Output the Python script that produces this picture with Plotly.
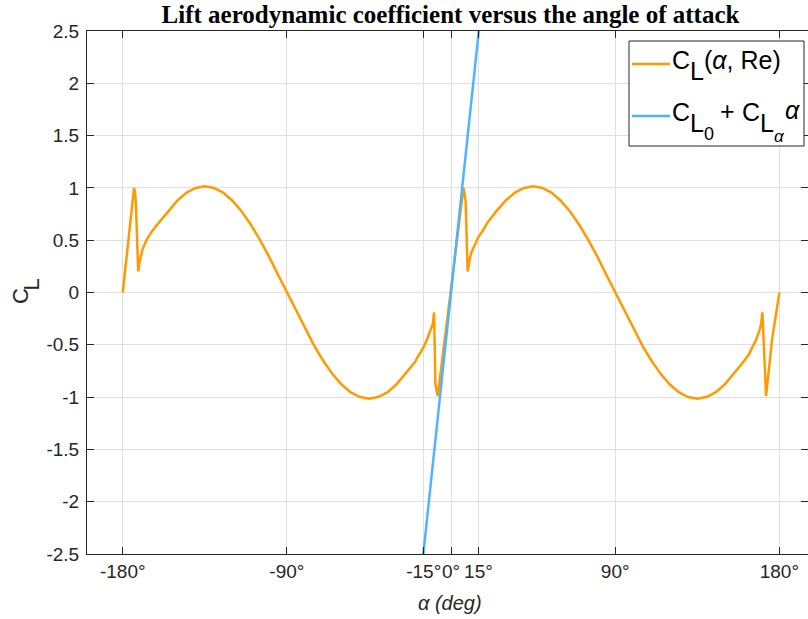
import plotly.graph_objects as go

# Orange: C_L(alpha, Re)
alpha_cl = [-180, -177, -175, -173.8, -173.2, -172.8, -171.5, -171, -170, -169, -167, -165, -162, -160,
            -155, -150, -145, -140, -135, -130, -125, -120, -115, -110, -105, -100, -95, -90,
            -85, -80, -75, -70, -65, -60, -55, -50, -45, -40, -35, -30, -25, -20, -17, -15, -13,
            -11.5, -10, -9.3, -9.0, -8.6, -7.3, 6.8, 7.4, 8.0, 9.1, 9.6, 10.5, 11.3, 13, 15, 17.7,
            20, 25, 30, 35, 40, 45, 50, 55, 60, 65, 70, 75, 80, 85, 90, 95, 100, 105, 110, 115, 120,
            125, 130, 135, 140, 145, 150, 155, 160, 163, 165, 167, 169, 170, 170.7, 171.2, 172.0,
            172.7, 176, 180]
cl_vals = [0.0, 0.48, 0.8, 1.0, 0.95, 0.85, 0.2, 0.27, 0.35, 0.42, 0.5, 0.56, 0.63, 0.67,
           0.78, 0.88, 0.955, 1.0, 1.015, 1.0, 0.955, 0.88, 0.78, 0.655, 0.51, 0.35, 0.175, 0.0,
           -0.175, -0.35, -0.51, -0.655, -0.78, -0.88, -0.955, -1.0, -1.015, -1.0, -0.955, -0.88,
           -0.78, -0.67, -0.58, -0.52, -0.44, -0.375, -0.3, -0.19, -0.5, -0.87, -0.99, 1.0, 0.95,
           0.87, 0.2, 0.27, 0.34, 0.39, 0.46, 0.53, 0.6, 0.67, 0.78, 0.88, 0.955, 1.0, 1.015, 1.0,
           0.955, 0.88, 0.78, 0.655, 0.51, 0.35, 0.175, 0.0, -0.175, -0.35, -0.51, -0.655, -0.78,
           -0.88, -0.955, -1.0, -1.015, -1.0, -0.955, -0.88, -0.78, -0.67, -0.6, -0.53, -0.46,
           -0.37, -0.3, -0.19, -0.42, -0.85, -0.99, -0.45, 0.0]

# Blue: linear model C_L0 + C_Lalpha * alpha
alpha_lin = [-16, 16]
cl_lin = [-2.63, 2.63]

x_ticks = [-180, -90, -15, 0, 15, 90, 180]
x_tick_labels = ["-180°", "-90°", "-15°", "0°", "15°", "90°", "180°"]
y_ticks = [-2.5, -2, -1.5, -1, -0.5, 0, 0.5, 1, 1.5, 2, 2.5]
y_tick_labels = ["-2.5", "-2", "-1.5", "-1", "-0.5", "0", "0.5", "1", "1.5", "2", "2.5"]

ORANGE = "#FF9A00"
BLUE = "#4DB5FF"
axis_col = "#262626"
grid_col = "#E0E0E0"
SANS = "Liberation Sans, Arial, sans-serif"

# plot area in pixels
L, R, T, B = 87, 808, 31, 554


def px(x):
    return (x - L) / (R - L)


def py(y):
    return (B - y) / (B - T)


fig = go.Figure()
fig.add_trace(go.Scatter(x=alpha_cl, y=cl_vals, mode="lines",
                         line=dict(color=ORANGE, width=2.5), showlegend=False))
fig.add_trace(go.Scatter(x=alpha_lin, y=cl_lin, mode="lines",
                         line=dict(color=BLUE, width=2.5), showlegend=False))

shapes = [
    dict(type="rect", xref="paper", yref="paper", x0=px(629), x1=px(804), y0=py(146), y1=py(41),
         line=dict(color=axis_col, width=1), fillcolor="white", layer="above"),
    dict(type="line", xref="paper", yref="paper", x0=px(632), x1=px(670), y0=py(64), y1=py(64),
         line=dict(color=ORANGE, width=2.5), layer="above"),
    dict(type="line", xref="paper", yref="paper", x0=px(632), x1=px(670), y0=py(116), y1=py(116),
         line=dict(color=BLUE, width=2.5), layer="above"),
]


def txt(s, x, y, size, xanchor="left", angle=0, color="black", family=SANS):
    return dict(text=s, xref="paper", yref="paper", x=px(x), y=py(y), xanchor=xanchor,
                yanchor="middle", showarrow=False, textangle=angle, borderpad=0,
                font=dict(size=size, color=color, family=family))


annotations = [
    # legend entry 1: C_L(alpha, Re)
    txt("C", 671, 60, 25),
    txt("L", 689, 71.5, 25),
    txt("(<i>α</i>, Re)", 703, 60, 25),
    # legend entry 2: C_L0 + C_Lalpha alpha
    txt("C", 671, 112, 25),
    txt("L", 689, 123, 25),
    txt("0", 703, 133.5, 18),
    txt("+", 727, 111, 25, xanchor="center"),
    txt("C", 741, 112, 25),
    txt("L", 759, 123, 25),
    txt("<i>α</i>", 773, 136, 17),
    txt("<i>α</i>", 784, 110, 25),
    # axis titles
    txt("<i>α (deg)</i>", 450, 603, 20, xanchor="center", color=axis_col),
    txt("C", 21, 296, 22, xanchor="center", angle=-90, color=axis_col),
    txt("L", 30.5, 284, 22, xanchor="center", angle=-90, color=axis_col),
]

fig.update_layout(
    width=808, height=619,
    margin=dict(l=L, r=808 - R, t=T, b=619 - B),
    plot_bgcolor="white", paper_bgcolor="white",
    font=dict(family=SANS, color=axis_col, size=19),
    title=dict(text="<b>Lift aerodynamic coefficient versus the angle of attack</b>",
               font=dict(family="Liberation Serif, Times New Roman, serif", size=25, color="black"),
               x=px(450.5), xanchor="center", xref="paper", y=1 - 14 / 619, yanchor="middle",
               yref="container"),
    showlegend=False,
    shapes=shapes,
    annotations=annotations,
)
fig.update_xaxes(range=[-199.6, 195.7], tickvals=x_ticks, ticktext=x_tick_labels,
                 tickangle=0, tickfont=dict(size=19),
                 showgrid=True, gridcolor=grid_col, gridwidth=1, zeroline=False,
                 showline=True, linecolor=axis_col, linewidth=1, mirror="ticks",
                 ticks="inside", ticklen=7, tickcolor=axis_col)
fig.update_yaxes(range=[-2.5, 2.5], tickvals=y_ticks, ticktext=y_tick_labels,
                 ticklabelstandoff=3,
                 showgrid=True, gridcolor=grid_col, gridwidth=1, zeroline=False,
                 showline=True, linecolor=axis_col, linewidth=1, mirror="ticks",
                 ticks="inside", ticklen=7, tickcolor=axis_col)

fig.write_html("out.html")
